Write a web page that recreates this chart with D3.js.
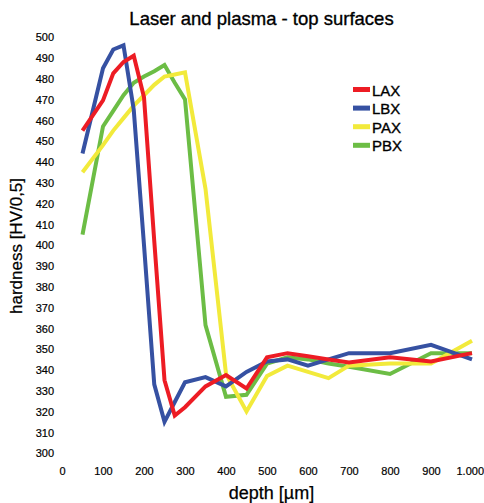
<!DOCTYPE html>
<html>
<head>
<meta charset="utf-8">
<script src="https://cdn.jsdelivr.net/npm/d3@7/dist/d3.min.js"></script>
<style>
  html, body { margin: 0; padding: 0; background: #fff; }
  svg { display: block; }
  text { font-family: "Liberation Sans", Arial, sans-serif; fill: #000; }
  .heavy { stroke: #000; stroke-width: 0.35px; }
</style>
</head>
<body>
<svg id="chart" width="484" height="503"></svg>
<script>
const title = "Laser and plasma - top surfaces";
const xTitle = "depth [µm]";
const yTitle = "hardness [HV/0,5]";

const depth = [50, 100, 125, 150, 175, 200, 225, 250, 275, 300, 350, 400, 450, 500, 550, 600, 650, 700, 800, 900, 1000];
const LAX = [455, 469.5, 482.5, 488, 491, 471, 402, 335, 318, 322, 332, 337.5, 331, 346, 348, 346.5, 345, 343.5, 346, 344, 348];
const LBX = [444, 485, 494, 496, 465, 400, 333, 315, 324.5, 334, 336.5, 332, 339, 344, 345, 342, 345, 348, 348, 352, 345];
const PAX = [435, 448, 455, 461, 467, 472, 477, 481, 482, 483, 427, 338, 320, 337, 342, 339, 336, 342, 343, 343, 354];
const PBX = [405, 457, 464.5, 472, 478, 481, 483.5, 486.5, 478, 470, 361.5, 327, 328, 343, 346, 345, 343, 341.5, 338, 348, 348];

const seriesNames = ["LAX", "LBX", "PAX", "PBX"];
const seriesValues = [LAX, LBX, PAX, PBX];
const seriesColors = ["#ED1C24", "#3651A2", "#F2EA3B", "#6CBD45"];

const xTicks = [0, 100, 200, 300, 400, 500, 600, 700, 800, 900, 1000];
const xTickLabels = ["0", "100", "200", "300", "400", "500", "600", "700", "800", "900", "1.000"];
const yTicks = d3.range(300, 501, 10);

const svg = d3.select("#chart");
const x = d3.scaleLinear().domain([0, 1000]).range([62, 472]);
const y = d3.scaleLinear().domain([300, 500]).range([453, 37]);

// title
svg.append("text").attr("class", "heavy").attr("x", 261.5).attr("y", 25).attr("text-anchor", "middle")
  .style("font-size", "18.5px").text(title);

// y axis (labels only)
const yAxis = d3.axisLeft(y).tickValues(yTicks).tickSize(0).tickPadding(0).tickFormat(d3.format("d"));
const gy = svg.append("g").attr("transform", "translate(54,0)").call(yAxis);
gy.select(".domain").remove();
gy.selectAll("text").attr("class", "heavy").style("stroke-width", "0.2px")
  .style("font-size", "11px").style("font-family", "'Liberation Sans', Arial, sans-serif")
  .attr("fill", "#000").attr("dy", "0.36em");

// x axis (labels only)
const xAxis = d3.axisBottom(x).tickValues(xTicks).tickSize(0).tickPadding(0)
  .tickFormat((d, i) => xTickLabels[i]);
const gx = svg.append("g").attr("transform", "translate(0,467)").call(xAxis);
gx.select(".domain").remove();
gx.selectAll("text").attr("class", "heavy").style("stroke-width", "0.2px")
  .style("font-size", "11px").style("font-family", "'Liberation Sans', Arial, sans-serif")
  .attr("fill", "#000").attr("dy", "0.71em").attr("y", 0);
// keep the last label inside the picture, as in the reference
gx.selectAll(".tick").filter(d => d === 1000).select("text")
  .attr("text-anchor", "end").attr("x", 11.5);

// axis titles
svg.append("text").attr("class", "heavy").attr("transform", "translate(22,246) rotate(-90)").attr("text-anchor", "middle")
  .style("font-size", "17px").style("stroke-width", "0.25px").text(yTitle);
svg.append("text").attr("class", "heavy").attr("x", 271.5).attr("y", 499).attr("text-anchor", "middle")
  .style("font-size", "18px").style("stroke-width", "0.25px").text(xTitle);

// lines (draw in reverse order so LAX is on top)
const line = d3.line().x((d, i) => x(depth[i])).y(d => y(d));
for (let s = seriesNames.length - 1; s >= 0; s--) {
  svg.append("path").datum(seriesValues[s])
    .attr("fill", "none").attr("stroke", seriesColors[s]).attr("stroke-width", 4)
    .attr("stroke-linejoin", "miter").attr("stroke-miterlimit", 3)
    .attr("d", line);
}

// legend
const lg = svg.append("g");
seriesNames.forEach((name, i) => {
  const cy = 89.5 + i * 18.6;
  lg.append("rect").attr("x", 353).attr("y", cy - 2.5).attr("width", 17).attr("height", 5).attr("fill", seriesColors[i]);
  lg.append("text").attr("class", "heavy").attr("x", 372).attr("y", cy + 6).style("font-size", "15px").text(name);
});
</script>
</body>
</html>
